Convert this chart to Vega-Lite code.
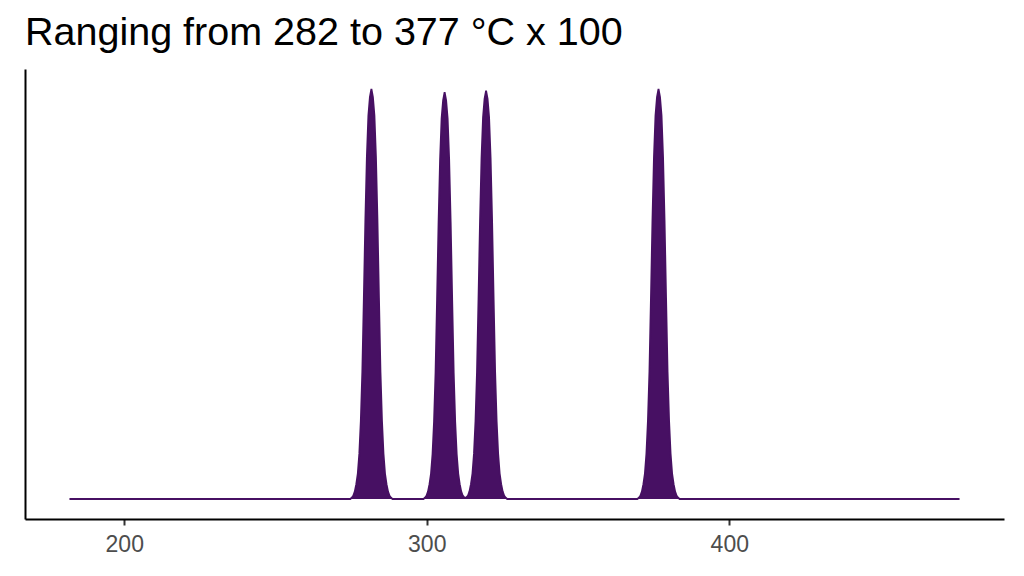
{
  "$schema": "https://vega.github.io/schema/vega-lite/v6.json",
  "autosize": {"type": "none"},
  "padding": {"left": 25, "top": 69, "right": 20, "bottom": 57},
  "width": 979,
  "height": 450,
  "background": "white",
  "title": {
    "text": "Ranging from 282 to 377 °C x 100",
    "anchor": "start",
    "frame": "group",
    "font": "Liberation Sans",
    "fontSize": 39.5,
    "fontWeight": "normal",
    "color": "#000000",
    "offset": 16
  },
  "config": {
    "view": {"stroke": null},
    "axis": {"grid": false}
  },
  "data": {
    "values": [
      {"x": 181.9, "y": 0},
      {"x": 274.7, "y": 0}, {"x": 275.2, "y": 0.003}, {"x": 275.7, "y": 0.008},
      {"x": 276.2, "y": 0.018}, {"x": 276.7, "y": 0.036}, {"x": 277.2, "y": 0.062}, {"x": 277.7, "y": 0.11},
      {"x": 278.2, "y": 0.19}, {"x": 278.7, "y": 0.31}, {"x": 279.2, "y": 0.49}, {"x": 279.7, "y": 0.68},
      {"x": 280.2, "y": 0.835}, {"x": 280.7, "y": 0.935}, {"x": 281.2, "y": 0.98}, {"x": 281.7, "y": 1.0},
      {"x": 282.2, "y": 0.98}, {"x": 282.7, "y": 0.935}, {"x": 283.2, "y": 0.835}, {"x": 283.7, "y": 0.68},
      {"x": 284.2, "y": 0.49}, {"x": 284.7, "y": 0.31}, {"x": 285.2, "y": 0.19}, {"x": 285.7, "y": 0.11},
      {"x": 286.2, "y": 0.062}, {"x": 286.7, "y": 0.036}, {"x": 287.2, "y": 0.018}, {"x": 287.7, "y": 0.008},
      {"x": 288.2, "y": 0.003}, {"x": 288.7, "y": 0},
      {"x": 298.9, "y": 0}, {"x": 299.4, "y": 0.003}, {"x": 299.9, "y": 0.008},
      {"x": 300.4, "y": 0.018}, {"x": 300.9, "y": 0.036}, {"x": 301.4, "y": 0.062}, {"x": 301.9, "y": 0.109},
      {"x": 302.4, "y": 0.188}, {"x": 302.9, "y": 0.308}, {"x": 303.4, "y": 0.486}, {"x": 303.9, "y": 0.675},
      {"x": 304.4, "y": 0.828}, {"x": 304.9, "y": 0.928}, {"x": 305.4, "y": 0.972}, {"x": 305.9, "y": 0.992},
      {"x": 306.4, "y": 0.972}, {"x": 306.9, "y": 0.928}, {"x": 307.4, "y": 0.828}, {"x": 307.9, "y": 0.675},
      {"x": 308.4, "y": 0.486}, {"x": 308.9, "y": 0.308}, {"x": 309.4, "y": 0.188}, {"x": 309.9, "y": 0.109},
      {"x": 310.4, "y": 0.062}, {"x": 310.9, "y": 0.036}, {"x": 311.4, "y": 0.018}, {"x": 311.9, "y": 0.008},
      {"x": 312.4, "y": 0.004}, {"x": 312.75, "y": 0.003}, {"x": 313.1, "y": 0.004},
      {"x": 313.6, "y": 0.008}, {"x": 314.1, "y": 0.018}, {"x": 314.6, "y": 0.036}, {"x": 315.1, "y": 0.062},
      {"x": 315.6, "y": 0.11}, {"x": 316.1, "y": 0.189}, {"x": 316.6, "y": 0.309}, {"x": 317.1, "y": 0.488},
      {"x": 317.6, "y": 0.677}, {"x": 318.1, "y": 0.832}, {"x": 318.6, "y": 0.931}, {"x": 319.1, "y": 0.976},
      {"x": 319.6, "y": 0.996}, {"x": 320.1, "y": 0.976}, {"x": 320.6, "y": 0.931}, {"x": 321.1, "y": 0.832},
      {"x": 321.6, "y": 0.677}, {"x": 322.1, "y": 0.488}, {"x": 322.6, "y": 0.309}, {"x": 323.1, "y": 0.189},
      {"x": 323.6, "y": 0.11}, {"x": 324.1, "y": 0.062}, {"x": 324.6, "y": 0.036}, {"x": 325.1, "y": 0.018},
      {"x": 325.6, "y": 0.008}, {"x": 326.1, "y": 0.003}, {"x": 326.6, "y": 0},
      {"x": 369.6, "y": 0}, {"x": 370.1, "y": 0.003}, {"x": 370.6, "y": 0.008},
      {"x": 371.1, "y": 0.018}, {"x": 371.6, "y": 0.036}, {"x": 372.1, "y": 0.062}, {"x": 372.6, "y": 0.11},
      {"x": 373.1, "y": 0.19}, {"x": 373.6, "y": 0.31}, {"x": 374.1, "y": 0.49}, {"x": 374.6, "y": 0.68},
      {"x": 375.1, "y": 0.835}, {"x": 375.6, "y": 0.935}, {"x": 376.1, "y": 0.98}, {"x": 376.6, "y": 1.0},
      {"x": 377.1, "y": 0.98}, {"x": 377.6, "y": 0.935}, {"x": 378.1, "y": 0.835}, {"x": 378.6, "y": 0.68},
      {"x": 379.1, "y": 0.49}, {"x": 379.6, "y": 0.31}, {"x": 380.1, "y": 0.19}, {"x": 380.6, "y": 0.11},
      {"x": 381.1, "y": 0.062}, {"x": 381.6, "y": 0.036}, {"x": 382.1, "y": 0.018}, {"x": 382.6, "y": 0.008},
      {"x": 383.1, "y": 0.003}, {"x": 383.6, "y": 0},
      {"x": 476.1, "y": 0}
    ]
  },
  "encoding": {
    "x": {
      "field": "x",
      "type": "quantitative",
      "scale": {"domain": [167.2, 490.8], "nice": false, "zero": false},
      "axis": {
        "title": null,
        "values": [200, 300, 400],
        "domainColor": "#000000",
        "domainWidth": 2,
        "tickColor": "#333333",
        "tickWidth": 2,
        "tickSize": 6,
        "labelFont": "Liberation Sans",
        "labelFontSize": 23,
        "labelColor": "#4D4D4D",
        "labelPadding": 8
      }
    },
    "y": {
      "field": "y",
      "type": "quantitative",
      "scale": {"domain": [-0.0488, 1.0488], "nice": false, "zero": false},
      "axis": {
        "title": null,
        "ticks": false,
        "labels": false,
        "domainColor": "#000000",
        "domainWidth": 2
      }
    }
  },
  "layer": [
    {"mark": {"type": "area", "color": "#471063", "opacity": 1, "clip": true}},
    {"mark": {"type": "line", "color": "#471063", "strokeWidth": 1.8, "clip": true}}
  ]
}
